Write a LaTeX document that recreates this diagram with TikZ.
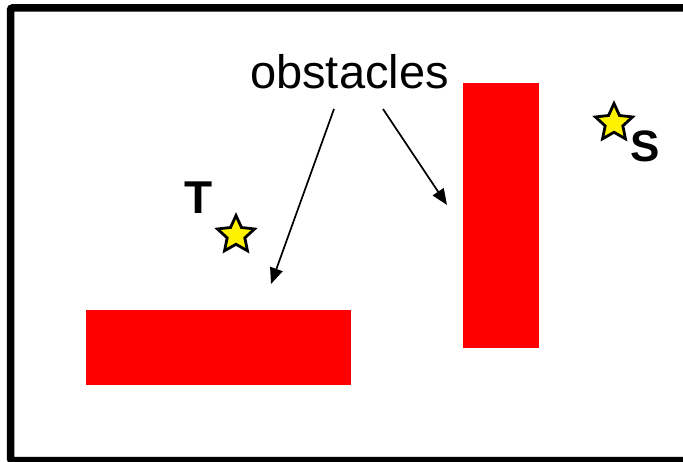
\documentclass[tikz,border=0pt]{standalone}
\usepackage{fontspec}
\setmainfont{Liberation Sans}
\usetikzlibrary{arrows.meta, shapes.geometric}

\begin{document}
\begin{tikzpicture}[
      x=1pt, y=-1pt,
      frame/.style={draw, line width=7.5pt, rounded corners=2pt},
      obst/.style={fill=red, draw=none},
      goal/.style={star, star points=5, star point ratio=2.1, draw, fill=yellow,
        line width=2.8pt, minimum size=39pt, inner sep=0pt},
      lbl/.style={inner sep=0pt, anchor=base west},
      arr/.style={-{Triangle[length=16pt, width=13pt]}, line width=1.7pt},
    ]
    \clip (0,0) rectangle (683,462);
    \draw[frame] (10.5,8) rectangle (700,460.5);
    % obstacles
    \path[obst] (86,310) rectangle (351,385);
    \path[obst] (463,83) rectangle (539,348);
    \node[lbl, font=\fontsize{47}{56}\selectfont] (obstacles) at (250,89) {obstacles};
    % target and start
    \node[goal] (tstar) at (236,235) {};
    \node[lbl, font=\fontsize{46}{55}\selectfont\bfseries] (tlabel) at (184,214) {T};
    \node[goal] (sstar) at (614,123) {};
    \node[lbl, font=\fontsize{44}{53}\selectfont\bfseries] (slabel) at (630,162) {S};
    % pointers
    \coordinate (from1) at (334,109);
    \coordinate (to1) at (271,284);
    \coordinate (from2) at (383,109);
    \coordinate (to2) at (447,205);
    \draw[arr] (from1) -- (to1);
    \draw[arr] (from2) -- (to2);
  \end{tikzpicture}
\end{document}
